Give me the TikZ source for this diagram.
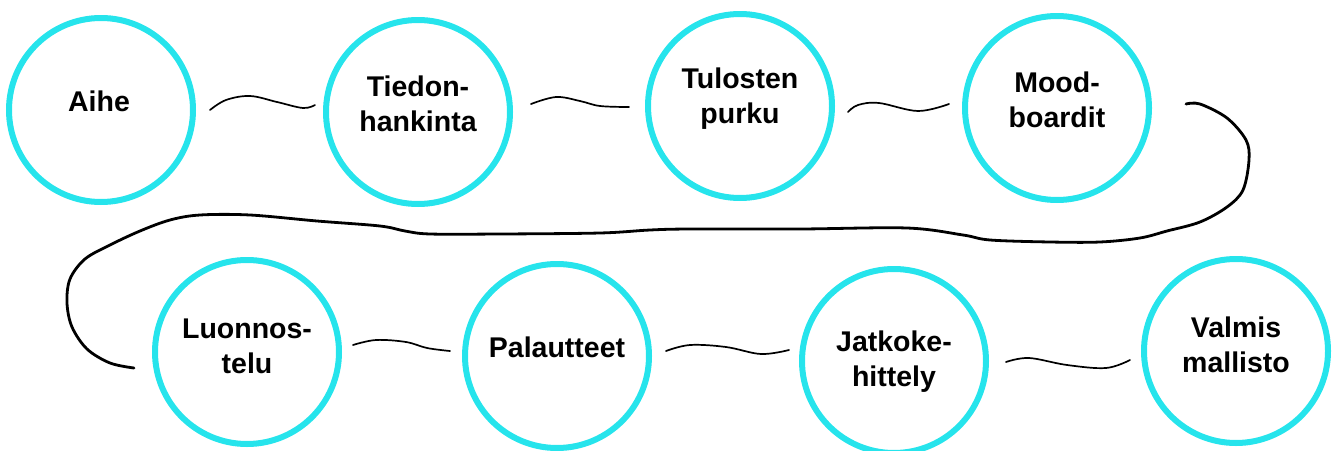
\documentclass[tikz,border=0pt]{standalone}
\usepackage{fontspec}
\setmainfont{Liberation Sans}
\usetikzlibrary{calc}
\definecolor{ringcyan}{RGB}{38,228,236}
\begin{document}
\begin{tikzpicture}[x=1pt,y=-1pt,
  ring/.style={circle,draw=ringcyan,line width=6pt,minimum size=184pt,inner sep=0pt},
  lbl/.style={align=center,font=\fontsize{28.5}{35}\selectfont\bfseries,inner sep=0pt},
  conn/.style={draw=black,line width=1.7pt,line cap=round,line join=round},
  loopline/.style={draw=black,line width=2.8pt,line cap=round,line join=round}]
\useasboundingbox (0,0) rectangle (1339,450);
% circles
\node[ring] (c1) at (101,110) {};
\node[ring] (c2) at (418,112) {};
\node[ring] (c3) at (740,106) {};
\node[ring] (c4) at (1057,108) {};
\node[ring] (c5) at (247,352) {};
\node[ring] (c6) at (557,356) {};
\node[ring] (c7) at (894,361) {};
\node[ring] (c8) at (1236,351) {};
% labels
\node[lbl] (t1) at (99,101) {Aihe};
\node[lbl] (t2) at (418,104) {Tiedon-\\hankinta};
\node[lbl] (t3) at (740,99) {Tulosten\\purku};
\node[lbl] (t4) at (1057,100) {Mood-\\boardit};
\node[lbl] (t5) at (247,346) {Luonnos-\\telu};
\node[lbl] (t6) at (557,347) {Palautteet};
\node[lbl] (t7) at (894,362) {Jatkoke-\\hittely};
\node[lbl] (t8) at (1236,345) {Valmis\\mallisto};
% short connectors
\coordinate (a1) at ($(c1.east)+(14,0)$);
\coordinate (b1) at ($(c2.west)+(-8,-7)$);
\draw[conn] plot[smooth,tension=0.6] coordinates {(a1) (226,100) (250,96) (277,102) (303,108) (b1)};
\coordinate (a2) at ($(c2.east)+(18,-8)$);
\coordinate (b2) at ($(c3.west)+(-16,1)$);
\draw[conn] plot[smooth,tension=0.6] coordinates {(a2) (556,97) (580,101) (600,106) (b2)};
\coordinate (a3) at ($(c3.east)+(13,6)$);
\coordinate (b3) at ($(c4.west)+(-13,-4)$);
\draw[conn] plot[smooth,tension=0.6] coordinates {(a3) (858,105) (879,103) (918,111) (b3)};
\coordinate (a4) at ($(c5.east)+(11,-7)$);
\coordinate (b4) at ($(c6.west)+(-12,-5)$);
\draw[conn] plot[smooth,tension=0.6] coordinates {(a4) (376,340) (406,342) (427,348) (b4)};
\coordinate (a5) at ($(c6.east)+(14,-5)$);
\coordinate (b5) at ($(c7.west)+(-10,-11)$);
\draw[conn] plot[smooth,tension=0.6] coordinates {(a5) (690,345) (726,347) (761,354) (b5)};
\coordinate (a6) at ($(c7.east)+(17,1)$);
\coordinate (b6) at ($(c8.west)+(-11,9)$);
\draw[conn] plot[smooth,tension=0.6] coordinates {(a6) (1029,358) (1067,365) (1106,368) (b6)};
% long return connector
\coordinate (a7) at ($(c4.east)+(34,-4)$);
\coordinate (b7) at ($(c5.west)+(-18,16)$);
\draw[loopline] plot[smooth,tension=0.55] coordinates {(a7) (1200,104) (1227,118) (1246,140) (1249,160) (1243,190) (1227,207) (1200,222) (1167,231) (1140,238) (1100,242) (1050,242) (990,240) (963,235) (907,228) (800,229) (690,229) (650,230) (600,233) (500,234) (430,234) (405,231) (380,226) (317,221) (250,215) (200,215) (170,220) (140,231) (110,245) (85,259) (70,279) (67,303) (72,327) (87,349) (110,363) (b7)};
\end{tikzpicture}
\end{document}
